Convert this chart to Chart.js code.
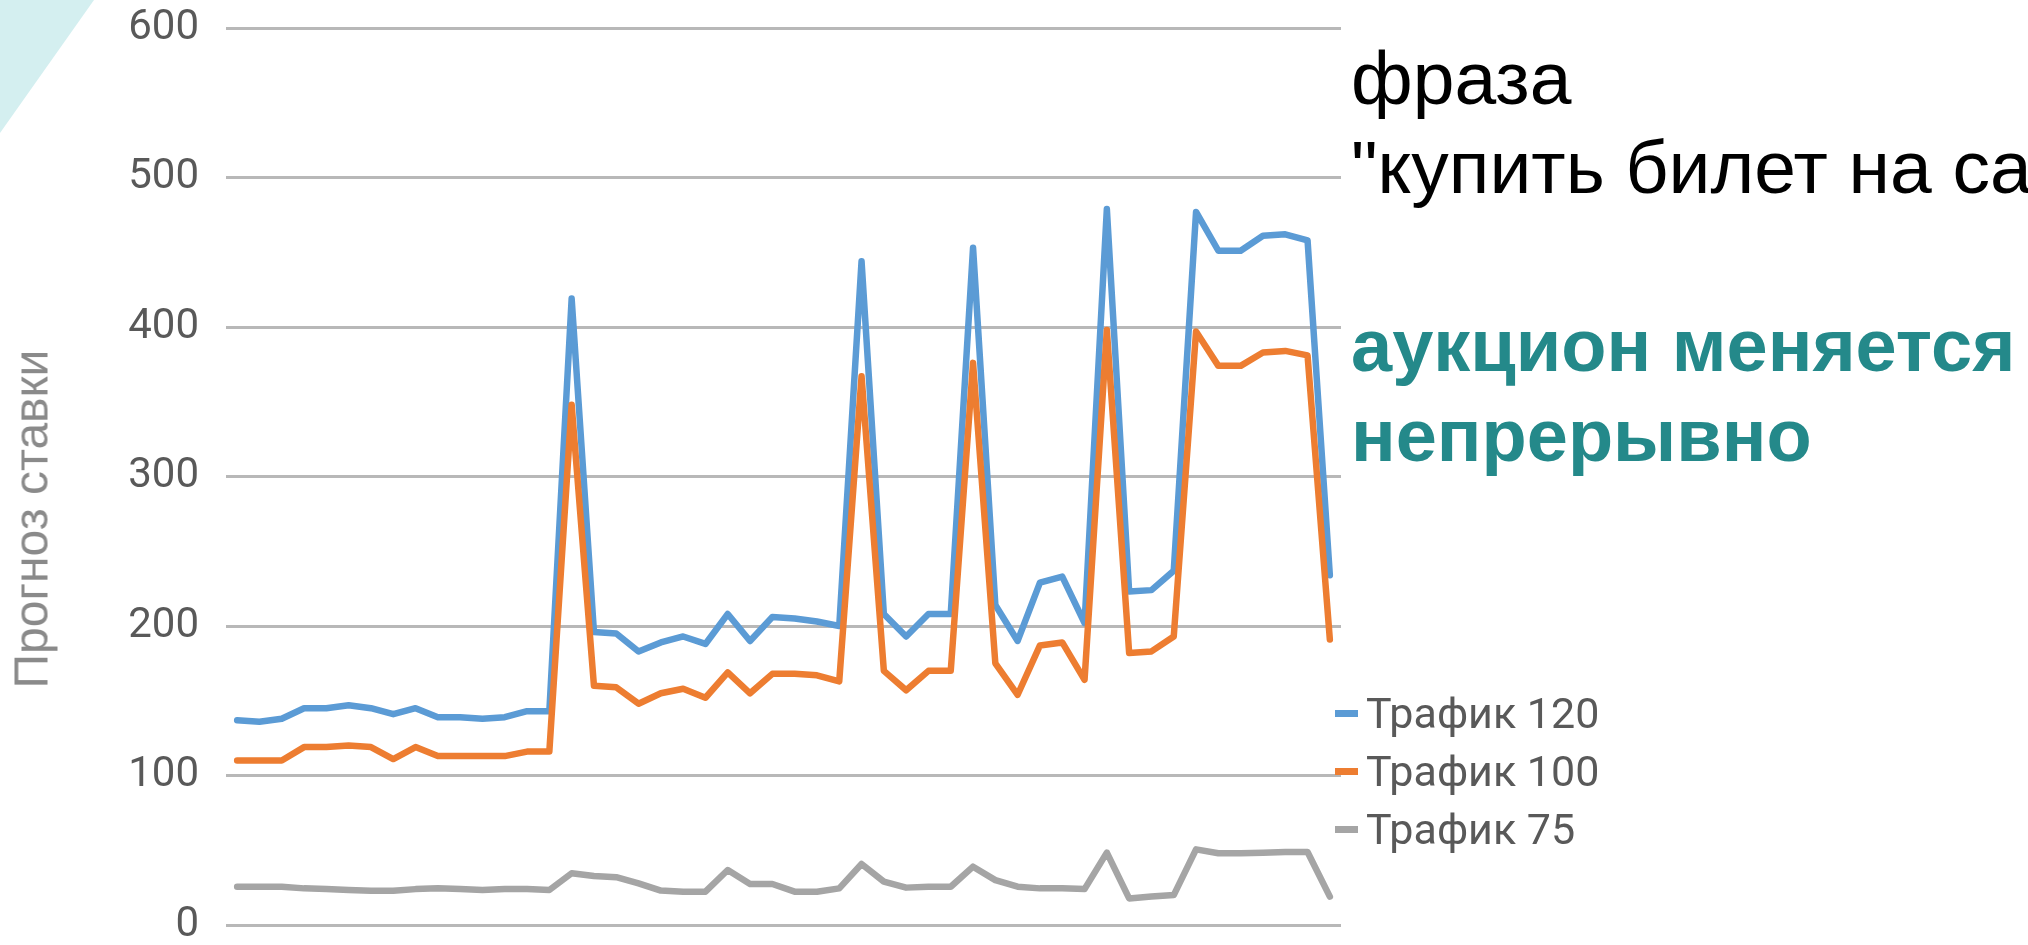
<!DOCTYPE html>
<html lang="ru">
<head>
<meta charset="utf-8">
<title>Прогноз ставки</title>
<script src="https://cdn.jsdelivr.net/npm/chart.js@4.4.1/dist/chart.umd.min.js"></script>
<style>
    html, body { margin: 0; padding: 0; background: #fff; overflow: hidden; }
    #wrap { position: relative; width: 2028px; height: 945px; overflow: hidden; }
    #chart-box { position: absolute; left: 0; top: 0; width: 2028px; height: 945px; }
    /* уголок слайда */
    .corner {
        position: absolute; left: 0; top: 0; width: 100px; height: 140px;
        background: #d4eff0;
        clip-path: polygon(0 0, 94px 0, 0 133px);
    }
    .axis-title {
        position: absolute; left: 31px; top: 519px;
        width: 420px; text-align: center;
        font: 48px/55px "Liberation Sans", Arial, sans-serif;
        color: #8a8a8a;
        transform: translate(-50%, -50%) rotate(-90deg);
        white-space: nowrap;
    }
    .phrase {
        position: absolute; left: 1351px; top: 34px;
        font: 75px/89px "Liberation Sans", Arial, sans-serif;
        color: #000; white-space: nowrap;
    }
    .note {
        position: absolute; left: 1351px; top: 301px;
        font: bold 74px/90px "Liberation Sans", Arial, sans-serif;
        color: #24898a; white-space: nowrap;
    }
    #legend { position: absolute; left: 1335px; top: 684px; }
    .leg-item { display: flex; align-items: center; height: 58px; }
    .leg-line { width: 23px; height: 7px; margin-right: 8px; }
    .leg-text { font: 43px Roboto, sans-serif; color: #595959; }
</style>
</head>
<body>
<div id="wrap">
    <div class="corner"></div>
    <div id="chart-box"><canvas id="chartStavki"></canvas></div>
    <div class="axis-title">Прогноз ставки</div>
    <div class="phrase">фраза<br>"купить билет на са</div>
    <div class="note">аукцион меняется<br>непрерывно</div>
    <div id="legend"></div>
</div>

<script>
// ============================================
// DATI
// ============================================
const SERIES_NAMES = ['Трафик 120', 'Трафик 100', 'Трафик 75'];
const Y_TICKS = [0, 100, 200, 300, 400, 500, 600];

// 50 точек по оси X (подписей на графике нет)
const categories = Array.from({ length: 50 }, (_, i) => String(i + 1));

const traffic120 = [137, 136, 138, 145, 145, 147, 145, 141, 145, 139,
                    139, 138, 139, 143, 143, 419, 196, 195, 183, 189,
                    193, 188, 208, 190, 206, 205, 203, 200, 444, 208,
                    193, 208, 208, 453, 214, 190, 229, 233, 202, 479,
                    223, 224, 237, 477, 451, 451, 461, 462, 458, 234];

const traffic100 = [110, 110, 110, 119, 119, 120, 119, 111, 119, 113,
                    113, 113, 113, 116, 116, 348, 160, 159, 148, 155,
                    158, 152, 169, 155, 168, 168, 167, 163, 367, 170,
                    157, 170, 170, 376, 175, 154, 187, 189, 164, 398,
                    182, 183, 193, 397, 374, 374, 383, 384, 381, 191];

const traffic75 = [25.6, 25.6, 25.6, 24.5, 24, 23.4, 22.9, 22.9, 24, 24.5,
                   24, 23.4, 24, 24, 23.4, 34.6, 32.8, 32, 27.9, 23,
                   22.3, 22.3, 36.8, 27.4, 27.4, 22.3, 22.3, 24.5, 40.8, 29,
                   25, 25.6, 25.6, 39, 30, 25.6, 24.5, 24.5, 24, 48.4,
                   17.8, 19, 20, 50.6, 48, 48, 48.4, 48.8, 48.8, 19];

// Colori Excel
const BLUE   = '#5b9bd5';
const ORANGE = '#ed7d31';
const GRAY   = '#a5a5a5';

// ============================================
// GRAFICO
// ============================================
const seriesData = [traffic120, traffic100, traffic75];
const seriesColors = [BLUE, ORANGE, GRAY];

const chart = new Chart(document.getElementById('chartStavki'), {
    type: 'line',
    data: {
        labels: categories,
        datasets: seriesData.map((d, i) => ({
            label: SERIES_NAMES[i],
            data: d,
            borderColor: seriesColors[i],
            backgroundColor: seriesColors[i],
            borderWidth: 6.5,
            pointRadius: 0,
            tension: 0,
            borderJoinStyle: 'round',
            borderCapStyle: 'round',
            order: 3 - i          // серии рисуются поверх предыдущих, как в Excel
        }))
    },
    options: {
        responsive: true,
        maintainAspectRatio: false,
        animation: false,
        layout: { padding: { left: 0, top: 28, right: 687, bottom: 20 } },
        plugins: {
            legend: { display: false },
            tooltip: { enabled: false }
        },
        scales: {
            x: {
                display: false,
                offset: true
            },
            y: {
                min: 0,
                max: 600,
                afterBuildTicks: s => { s.ticks = Y_TICKS.map(v => ({ value: v })); },
                afterFit: s => { s.width = 226; },
                border: { display: false },
                // tacche invisibili: danno solo lo spazio tra etichette e griglia
                grid: {
                    color: '#b8b8b8', lineWidth: 3,
                    drawTicks: true, tickLength: 27, tickColor: 'rgba(0,0,0,0)'
                },
                ticks: {
                    padding: 0,
                    color: '#595959',
                    font: { family: 'Roboto', size: 42, lineHeight: 0.05 }
                }
            }
        }
    }
});

// Legenda HTML dai dataset
const legend = document.getElementById('legend');
chart.data.datasets.forEach(ds => {
    const row = document.createElement('div');
    row.className = 'leg-item';
    row.innerHTML = '<span class="leg-line" style="background:' + ds.borderColor + '"></span>' +
                    '<span class="leg-text">' + ds.label + '</span>';
    legend.appendChild(row);
});
</script>
</body>
</html>
